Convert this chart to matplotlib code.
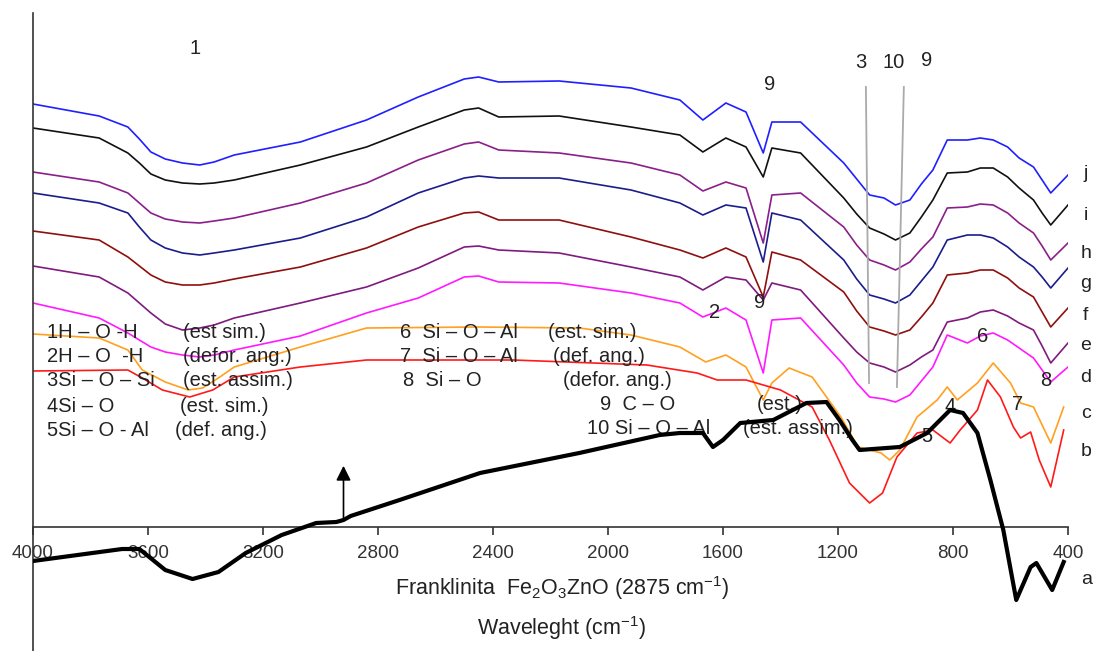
import matplotlib
matplotlib.use("Agg")
import matplotlib.pyplot as plt

plt.rcParams['font.family'] = ['Liberation Sans', 'DejaVu Sans']
plt.rcParams['mathtext.fontset'] = 'custom'
plt.rcParams['mathtext.rm'] = 'Liberation Sans'
plt.rcParams['mathtext.it'] = 'Liberation Sans'

# wavenumbers (cm-1) shared by the stacked spectra j..d
wn_upper = [4000, 3770, 3670, 3630, 3590, 3540, 3480, 3420, 3370, 3300, 3070, 2840, 2660,
            2500, 2450, 2380, 2170, 1920, 1750, 1670, 1590, 1520, 1460, 1430, 1330, 1180,
            1135, 1090, 1040, 1000, 950, 910, 870, 820, 750, 705, 660, 610, 570, 520, 490,
            460, 400]

# intensities in arbitrary units (offset spectra)
spec_j = [423, 411, 400, 388, 375, 368, 364, 362, 365, 372, 385, 407, 430, 448, 450, 445,
          446, 439, 427, 407, 424, 415, 374, 405, 405, 364, 348, 332, 329, 322, 327, 343,
          357, 387, 387, 389, 387, 380, 369, 360, 347, 334, 352]
spec_i = [399, 389, 374, 364, 353, 347, 344, 343, 344, 347, 362, 380, 400, 417, 419, 410,
          411, 400, 392, 375, 389, 380, 350, 379, 374, 329, 313, 299, 293, 287, 294, 310,
          327, 354, 355, 359, 359, 350, 339, 327, 314, 302, 322]
spec_h = [355, 345, 334, 324, 314, 308, 305, 304, 306, 309, 324, 344, 367, 383, 385, 377,
          374, 364, 352, 336, 345, 339, 284, 332, 334, 300, 282, 267, 262, 257, 265, 278,
          290, 319, 320, 323, 322, 314, 304, 294, 281, 267, 284]
spec_g = [334, 324, 314, 300, 287, 279, 274, 272, 274, 277, 289, 310, 334, 349, 351, 349,
          349, 337, 324, 312, 322, 319, 265, 314, 307, 267, 248, 232, 228, 224, 232, 246,
          260, 287, 292, 292, 289, 280, 270, 260, 250, 239, 259]
spec_f = [296, 287, 270, 261, 252, 245, 242, 242, 244, 248, 260, 279, 300, 314, 315, 307,
          307, 290, 277, 269, 279, 270, 230, 275, 267, 235, 216, 200, 196, 192, 197, 210,
          224, 252, 254, 257, 257, 249, 239, 230, 215, 200, 219]
spec_e = [261, 250, 234, 224, 214, 203, 197, 199, 202, 209, 224, 240, 259, 280, 281, 277,
          274, 260, 250, 237, 250, 247, 227, 244, 237, 189, 175, 164, 160, 155, 162, 170,
          177, 205, 209, 215, 217, 211, 204, 197, 181, 164, 184]
spec_d = [224, 209, 194, 187, 180, 175, 172, 170, 172, 177, 191, 214, 229, 250, 251, 245,
          244, 234, 224, 210, 219, 207, 154, 207, 209, 162, 144, 130, 128, 125, 132, 146,
          160, 192, 184, 191, 194, 187, 179, 169, 157, 145, 160]

wn_c = [4000, 3770, 3670, 3620, 3540, 3460, 3410, 3350, 3300, 3070, 2840, 2450, 2100, 1920,
        1750, 1660, 1590, 1520, 1460, 1430, 1370, 1290, 1190, 1130, 1050, 1020, 985, 925,
        855, 820, 785, 715, 660, 600, 565, 520, 460, 415]
spec_c = [193, 189, 177, 157, 145, 137, 139, 150, 160, 180, 199, 200, 199, 192, 180, 165,
          172, 160, 127, 144, 159, 150, 110, 80, 74, 67, 77, 110, 127, 140, 127, 144, 164,
          144, 124, 120, 84, 120]

wn_b = [4000, 3670, 3620, 3550, 3455, 3375, 3300, 3070, 2840, 2330, 1865, 1690, 1620, 1520,
        1400, 1290, 1230, 1160, 1090, 1045, 995, 925, 870, 810, 775, 715, 680, 635, 590,
        565, 530, 500, 460, 415]
spec_b = [156, 157, 149, 137, 130, 137, 150, 160, 167, 167, 162, 154, 147, 147, 137, 120,
          87, 44, 24, 34, 70, 94, 97, 84, 97, 117, 147, 130, 100, 89, 95, 67, 40, 97]

# Franklinita Fe2O3ZnO reference spectrum
wn_a = [4000, 3690, 3630, 3540, 3445, 3355, 3260, 3135, 3015, 2945, 2920, 2895, 2725, 2445,
        2100, 1820, 1750, 1670, 1635, 1600, 1540, 1425, 1310, 1240, 1195, 1150, 1125, 985,
        890, 810, 765, 715, 670, 625, 580, 530, 510, 455, 415]
spec_a = [-34, -22, -22, -43, -52, -45, -26, -8, 4, 5, 7, 11, 27, 54, 74, 92, 94, 94, 80,
          87, 104, 107, 124, 125, 107, 87, 77, 80, 94, 117, 114, 94, 47, -3, -73, -40, -36,
          -63, -35]

series = [
    ('j', wn_upper, spec_j, '#1f1fff', 354),
    ('i', wn_upper, spec_i, '#111111', 312),
    ('h', wn_upper, spec_h, '#8a1f8a', 274),
    ('g', wn_upper, spec_g, '#1c1c8c', 244),
    ('f', wn_upper, spec_f, '#8f0f0f', 211),
    ('e', wn_upper, spec_e, '#7f1a7f', 181),
    ('d', wn_upper, spec_d, '#ff1aff', 150),
    ('c', wn_c, spec_c, '#ffa01f', 114),
    ('b', wn_b, spec_b, '#ff1a1a', 75),
]

fig = plt.figure(figsize=(10.93, 6.51), dpi=100)
ax = fig.add_axes([33 / 1093, 0, 1035 / 1093, 638 / 651])
ax.set_xlim(4000, 400)
ax.set_ylim(-124, 514)

for name, wn, spec, col, ylab in series:
    ax.plot(wn, spec, color=col, lw=1.2)
    ax.text(338, ylab, name, fontsize=14, color='#222222', ha='center', va='center',
            clip_on=False)

ax.plot(wn_a, spec_a, color='black', lw=3, zorder=5)
ax.text(336, -53, 'a', fontsize=14, color='#222222', ha='center', va='center', clip_on=False)

# band guide lines
ax.plot([1103, 1092], [440, 144], color='#aaaaaa', lw=1.3)
ax.plot([971, 995], [440, 140], color='#aaaaaa', lw=1.3)

# arrow marking 2875 cm-1
ax.annotate('', xy=(2920, 64), xytext=(2920, 6),
            arrowprops=dict(arrowstyle='-|>', color='black', lw=1.2,
                            mutation_scale=22))

# band numbers
band_labels = [('1', 3437, 479), ('9', 1437, 442), ('3', 1120, 464), ('10', 1005, 464),
               ('9', 891, 466), ('2', 1628, 215), ('9', 1472, 225), ('6', 696, 190),
               ('8', 477, 147), ('7', 574, 122), ('5', 891, 90), ('4', 811, 121)]
for txt, x, y in band_labels:
    ax.text(x, y, txt, fontsize=14.5, color='#222222', ha='center', va='center', zorder=3)

# assignment key
key_rows = [('1H \u2013 O -H', 3951, '(est sim.)', 3478, 195),
            ('2H \u2013 O  -H', 3951, '(defor. ang.)', 3478, 170),
            ('3Si \u2013 O \u2013 Si', 3951, '(est. assim.)', 3478, 146),
            ('4Si \u2013 O', 3951, '(est. sim.)', 3489, 121),
            ('5Si \u2013 O - Al', 3951, '(def. ang.)', 3506, 97),
            ('6  Si \u2013 O \u2013 Al', 2724, '(est. sim.)', 2209, 195),
            ('7  Si \u2013 O \u2013 Al', 2724, '(def. ang.)', 2191, 170),
            ('8  Si \u2013 O', 2713, '(defor. ang.)', 2157, 146),
            ('9  C \u2013 O', 2028, '(est.)', 1482, 122),
            ('10 Si \u2013 O \u2013 Al', 2073, '(est. assim.)', 1531, 99)]
for grp, x1, mode, x2, y in key_rows:
    ax.text(x1, y, grp, fontsize=14.5, color='#222222', ha='left', va='center', zorder=3)
    ax.text(x2, y, mode, fontsize=14.5, color='#222222', ha='left', va='center', zorder=3)

# axes styling
for s in ['top', 'right']:
    ax.spines[s].set_visible(False)
ax.spines['bottom'].set_position(('data', 0))
ax.spines['left'].set_color('#333333')
ax.spines['bottom'].set_color('#333333')
ax.spines['left'].set_linewidth(1.2)
ax.spines['bottom'].set_linewidth(1.2)
ax.set_yticks([])
ax.set_xticks([4000, 3600, 3200, 2800, 2400, 2000, 1600, 1200, 800, 400])
ax.tick_params(axis='x', direction='out', length=6, width=1.2, pad=7,
               labelsize=13.5, colors='#333333')

fig.text(562 / 1093, 1 - 588 / 651, 'Franklinita  Fe$_2$O$_3$ZnO (2875 cm$^{-1}$)',
         fontsize=15.5, color='#222222', ha='center', va='center')
fig.text(562 / 1093, 1 - 628 / 651, 'Waveleght (cm$^{-1}$)',
         fontsize=15.5, color='#222222', ha='center', va='center')

fig.savefig('out.png', dpi=100)
